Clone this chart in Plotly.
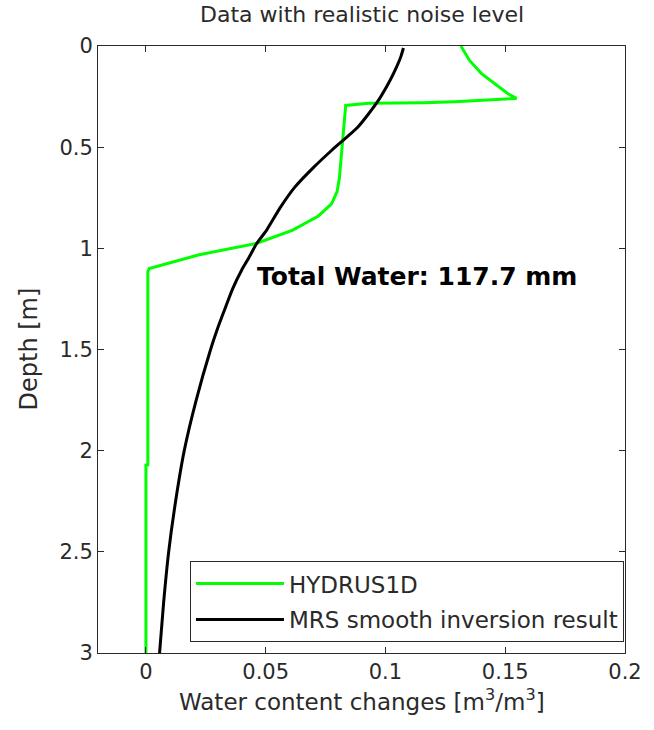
import plotly.graph_objects as go

# HYDRUS1D profile (water content change vs depth)
hydrus_depth = [0.0, 0.07, 0.135, 0.2, 0.235, 0.259, 0.267, 0.275, 0.28, 0.283, 0.294,
                0.4, 0.56, 0.65, 0.72, 0.78, 0.84, 0.91, 0.975, 1.033, 1.1, 1.115,
                1.5, 2.07, 2.071, 3.0]
hydrus_wc = [0.1315, 0.135, 0.140, 0.147, 0.151, 0.1547, 0.143, 0.129, 0.116, 0.093, 0.0834,
             0.0826, 0.0815, 0.0808, 0.0798, 0.0775, 0.072, 0.0613, 0.0463, 0.0218, 0.0014, 0.0008,
             0.0008, 0.0008, 0.0, 0.0]

# MRS smooth inversion result
mrs_depth = [0.01, 0.05, 0.1, 0.168, 0.275, 0.399, 0.514, 0.6, 0.7, 0.8, 0.91, 0.975,
             1.05, 1.107, 1.2, 1.305, 1.4, 1.5, 1.75, 2.0, 2.25, 2.5, 2.75, 3.0]
mrs_wc = [0.1075, 0.1065, 0.1048, 0.102, 0.0967, 0.0886, 0.0777, 0.070, 0.062, 0.056, 0.0504, 0.0463,
          0.0428, 0.0400, 0.0362, 0.0328, 0.0298, 0.027, 0.021, 0.016, 0.0124, 0.0095, 0.0074, 0.0057]

x_ticks = [0, 0.05, 0.1, 0.15, 0.2]
x_ticklabels = ["0", "0.05", "0.1", "0.15", "0.2"]
y_ticks = [0, 0.5, 1, 1.5, 2, 2.5, 3]
y_ticklabels = ["0", "0.5", "1", "1.5", "2", "2.5", "3"]

FONT = "DejaVu Sans, sans-serif"
TXT = "#2a2a2a"

fig = go.Figure()
fig.add_trace(go.Scatter(x=hydrus_wc, y=hydrus_depth, mode="lines", name="HYDRUS1D",
                         line=dict(color="#00ff00", width=3), legendgroup="a"))
fig.add_trace(go.Scatter(x=mrs_wc, y=mrs_depth, mode="lines", name="MRS smooth inversion result",
                         line=dict(color="#000000", width=3, shape="spline", smoothing=0.6),
                         legendgroup="b"))

axis_common = dict(showline=True, linecolor=TXT, linewidth=1, mirror="allticks",
                   ticks="inside", ticklen=6, tickcolor=TXT, showgrid=False, zeroline=False,
                   tickfont=dict(family=FONT, size=21, color=TXT))

fig.update_xaxes(range=[-0.02, 0.2], tickvals=x_ticks, ticktext=x_ticklabels, **axis_common)
fig.update_yaxes(range=[3, 0], tickvals=y_ticks, ticktext=y_ticklabels, **axis_common)

fig.add_annotation(text="<b>Total Water: 117.7 mm</b>", x=0.113, y=1.14, xref="x", yref="y",
                   showarrow=False, font=dict(family=FONT, size=25, color="#000"))
fig.add_annotation(text="Data with realistic noise level", x=0.5, y=1, xref="paper", yref="paper",
                   xanchor="center", yanchor="middle", yshift=32, showarrow=False,
                   font=dict(family=FONT, size=22, color=TXT))
fig.add_annotation(text="Water content changes [m<sup>3</sup>/m<sup>3</sup>]", x=0.5, y=0,
                   xref="paper", yref="paper", xanchor="center", yanchor="middle", yshift=-47,
                   showarrow=False, font=dict(family=FONT, size=23, color=TXT))
fig.add_annotation(text="Depth [m]", x=0, y=0.5, xref="paper", yref="paper",
                   xanchor="center", yanchor="middle", xshift=-70,
                   textangle=-90, showarrow=False, font=dict(family=FONT, size=24, color=TXT))

fig.update_layout(
    width=654, height=730,
    margin=dict(l=98, r=18, t=46, b=77),
    paper_bgcolor="white", plot_bgcolor="white",
    showlegend=True,
    legend=dict(x=0.998, y=0.018, xanchor="right", yanchor="bottom",
                bgcolor="white", bordercolor=TXT, borderwidth=1,
                font=dict(family=FONT, size=23, color=TXT),
                itemwidth=88, tracegroupgap=3),
)

fig.write_html("out.html")
